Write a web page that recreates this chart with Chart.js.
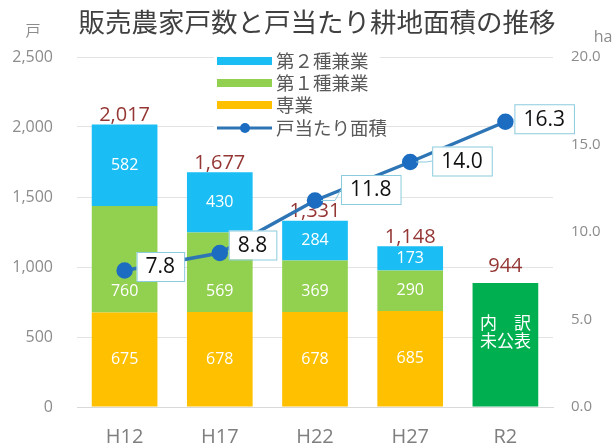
<!DOCTYPE html>
<html>
<head>
<meta charset="utf-8">
<script src="https://cdn.jsdelivr.net/npm/chart.js@4.4.0/dist/chart.umd.min.js"></script>
<style>
  body { margin: 0; background: #fff; }
  #wrap { width: 615px; height: 444px; }
</style>
</head>
<body>
<div id="wrap"><canvas id="chart" width="615" height="444"></canvas></div>
<script>
// data
const years = ['H12', 'H17', 'H22', 'H27', 'R2'];
const fullTime = [675, 678, 678, 685, null];       // 専業
const partTime1 = [760, 569, 369, 290, null];      // 第１種兼業
const partTime2 = [582, 430, 284, 173, null];      // 第２種兼業
const undisclosed = [null, null, null, null, 885]; // R2 (内訳未公表)
const totalFarms = [2017, 1677, 1331, 1148, 944];
const areaPerFarm = [7.8, 8.8, 11.8, 14.0, 16.3];  // ha
const seriesNames = ['専業', '第１種兼業', '第２種兼業', '内訳未公表', '戸当たり面積'];

const JP = '"Noto Sans CJK JP", "Noto Sans", sans-serif';
const NUM = '"Open Sans", "Noto Sans", sans-serif';
const colors = { full: '#FFC000', p1: '#92D050', p2: '#1ABEF4', r2: '#00B050', line: '#2E75B6', point: '#1C6DC1' };

// label box placement for the line values (dx to box left, dy of box centre)
const boxOffsets = [[12, -4], [9, -8], [26, -11], [22, -1], [9, -3]];

const overlay = {
    id: 'overlay',
    beforeDatasetDraw(chart, args) {
        if (args.index !== 4) return;  // bar labels go under the line
        const ctx = chart.ctx;
        ctx.save();
        ctx.textAlign = 'center';
        ctx.textBaseline = 'middle';
        ctx.font = '16px ' + NUM;
        ctx.fillStyle = '#fff';
        [fullTime, partTime1, partTime2].forEach((arr, di) => {
            const meta = chart.getDatasetMeta(di);
            arr.forEach((v, i) => {
                if (v == null) return;
                const el = meta.data[i];
                let y = (el.y + el.base) / 2;
                if (di === 1) y = el.base - 21;
                ctx.fillText(v, el.x, y);
            });
        });
        // totals
        ctx.font = '20px ' + NUM;
        ctx.fillStyle = '#943634';
        const xs = chart.scales.x, ys = chart.scales.y;
        totalFarms.forEach((t, i) => {
            ctx.fillText(t.toLocaleString('en-US'), xs.getPixelForValue(i), ys.getPixelForValue(t) - 9);
        });
        // R2 note
        const r2 = chart.getDatasetMeta(3).data[4];
        ctx.font = '17px ' + JP;
        ctx.fillStyle = '#fff';
        ctx.fillText('内　訳', r2.x, r2.y + 39);
        ctx.fillText('未公表', r2.x, r2.y + 57);
        ctx.restore();
    },
    afterDatasetsDraw(chart) {
        const ctx = chart.ctx;
        const meta = chart.getDatasetMeta(4);
        ctx.save();
        ctx.font = '21px ' + NUM;
        ctx.textBaseline = 'middle';
        ctx.textAlign = 'center';
        areaPerFarm.forEach((v, i) => {
            const p = meta.data[i];
            const txt = v.toFixed(1);
            const w = ctx.measureText(txt).width + 18;
            const h = 29;
            const bx = p.x + boxOffsets[i][0];
            const cy = p.y + boxOffsets[i][1];
            if (boxOffsets[i][0] > 15) {
                ctx.strokeStyle = '#8CCBDD';
                ctx.lineWidth = 1;
                ctx.beginPath();
                ctx.moveTo(p.x + 6, p.y);
                ctx.lineTo(bx - 6, p.y);
                ctx.lineTo(bx, cy);
                ctx.stroke();
            }
            ctx.fillStyle = '#fff';
            ctx.fillRect(bx, cy - h / 2, w, h);
            ctx.strokeStyle = '#8CCBDD';
            ctx.lineWidth = 1;
            ctx.strokeRect(bx + 0.5, cy - h / 2 + 0.5, w, h);
            ctx.fillStyle = '#111';
            ctx.fillText(txt, bx + w / 2, cy + 1);
        });
        ctx.restore();
    },
    afterDraw(chart) {
        const ctx = chart.ctx;
        ctx.save();
        // title and units
        ctx.textBaseline = 'middle';
        ctx.textAlign = 'center';
        ctx.fillStyle = '#404040';
        ctx.font = '26.5px ' + JP;
        ctx.fillText('販売農家戸数と戸当たり耕地面積の推移', 317, 22);
        ctx.fillStyle = '#8c8c8c';
        ctx.font = '15px ' + JP;
        ctx.fillText('戸', 33, 30);
        ctx.font = '16px ' + NUM;
        ctx.fillText('ha', 603, 37);

        // legend
        ctx.fillStyle = '#fff';
        ctx.fillRect(214, 50, 166, 91);
        const items = [
            [seriesNames[2], colors.p2, 'box'],
            [seriesNames[1], colors.p1, 'box'],
            [seriesNames[0], colors.full, 'box'],
            ['戸当たり面積', colors.line, 'line']
        ];
        ctx.textAlign = 'left';
        ctx.font = '18.5px ' + JP;
        const rows = [61, 83, 105, 128];
        items.forEach((it, k) => {
            const y = rows[k];
            if (it[2] === 'box') {
                ctx.fillStyle = it[1];
                ctx.fillRect(217, y - 4, 55, 8);
            } else {
                ctx.strokeStyle = it[1];
                ctx.lineWidth = 3;
                ctx.beginPath();
                ctx.moveTo(217, y);
                ctx.lineTo(272, y);
                ctx.stroke();
                ctx.fillStyle = colors.point;
                ctx.beginPath();
                ctx.arc(245, y, 5, 0, Math.PI * 2);
                ctx.fill();
            }
            ctx.fillStyle = '#595959';
            ctx.fillText(it[0], 276, y);
        });
        ctx.restore();
    }
};

const ctx = document.getElementById('chart').getContext('2d');
new Chart(ctx, {
    data: {
        labels: years,
        datasets: [
            { type: 'bar', label: seriesNames[0], data: fullTime, backgroundColor: colors.full, stack: 's', order: 1, yAxisID: 'y' },
            { type: 'bar', label: seriesNames[1], data: partTime1, backgroundColor: colors.p1, stack: 's', order: 1, yAxisID: 'y' },
            { type: 'bar', label: seriesNames[2], data: partTime2, backgroundColor: colors.p2, stack: 's', order: 1, yAxisID: 'y' },
            { type: 'bar', label: seriesNames[3], data: undisclosed, backgroundColor: colors.r2, stack: 's', order: 1, yAxisID: 'y' },
            {
                type: 'line', label: seriesNames[4], data: areaPerFarm, yAxisID: 'y1', order: 0,
                borderColor: colors.line, borderWidth: 3.5, pointBackgroundColor: colors.point,
                pointBorderColor: colors.point, pointRadius: 6.5, tension: 0
            }
        ]
    },
    options: {
        responsive: false,
        animation: false,
        devicePixelRatio: 1,
        layout: { padding: { top: 57, bottom: 0, left: 0, right: 0 } },
        datasets: { bar: { barPercentage: 0.69, categoryPercentage: 1 } },
        plugins: { legend: { display: false }, tooltip: { enabled: false } },
        scales: {
            x: {
                stacked: true,
                grid: { display: false },
                border: { display: true, color: '#d9d9d9' },
                ticks: { color: '#7f7f7f', font: { size: 20, family: NUM }, padding: 10 },
                afterFit: s => { s.height = 37; }
            },
            y: {
                stacked: true,
                min: 0, max: 2500,
                ticks: {
                    stepSize: 500, color: '#8c8c8c', padding: 24,
                    font: { size: 16, family: NUM },
                    callback: v => v.toLocaleString('en-US')
                },
                grid: { color: '#e3e3e3', drawTicks: false },
                border: { display: false },
                afterFit: s => { s.width = 77; }
            },
            y1: {
                position: 'right',
                min: 0, max: 20,
                ticks: {
                    stepSize: 5, color: '#8c8c8c', padding: 18,
                    font: { size: 15, family: NUM },
                    callback: v => v.toFixed(1)
                },
                grid: { drawOnChartArea: false, drawTicks: false },
                border: { display: false },
                afterFit: s => { s.width = 62; }
            }
        }
    },
    plugins: [overlay]
});
</script>
</body>
</html>
